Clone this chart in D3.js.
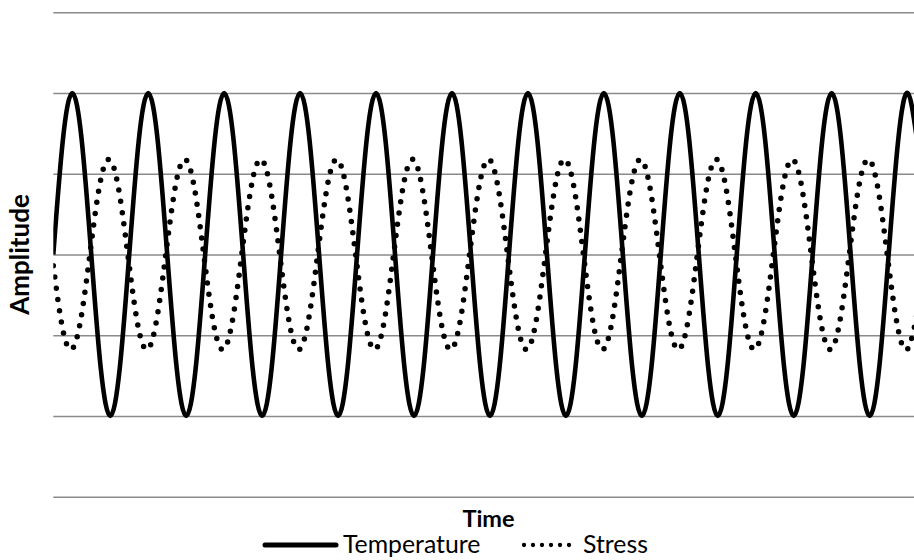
<!DOCTYPE html>
<html>
<head>
<meta charset="utf-8">
<script src="https://cdn.jsdelivr.net/npm/d3@7"></script>
<style>
  html, body { margin: 0; padding: 0; background: #fff; }
  svg { display: block; }
  text { font-family: Lato, "Liberation Sans", sans-serif; fill: #000; }
</style>
</head>
<body>
<svg id="chart" width="914" height="560"></svg>
<script>
// ---- data ----
const seriesNames = ["Temperature", "Stress"];
const yTicks = [-3, -2, -1, 0, 1, 2, 3];
const xTitle = "Time";
const yTitle = "Amplitude";

const temperature = [
  0, 1.41, 2, 1.41, 0, -1.41, -2, -1.41,
  0, 1.41, 2, 1.41, 0, -1.41, -2, -1.41,
  0, 1.41, 2, 1.41, 0, -1.41, -2, -1.41,
  0, 1.41, 2, 1.41, 0, -1.41, -2, -1.41,
  0, 1.41, 2, 1.41, 0, -1.41, -2, -1.41,
  0, 1.41, 2, 1.41, 0, -1.41, -2, -1.41,
  0, 1.41, 2, 1.41, 0, -1.41, -2, -1.41,
  0, 1.41, 2, 1.41, 0, -1.41, -2, -1.41,
  0, 1.41, 2, 1.41, 0, -1.41, -2, -1.41,
  0, 1.41, 2, 1.41, 0, -1.41, -2, -1.41,
  0, 1.41, 2, 1.41, 0, -1.41, -2, -1.41,
  0, 1.41, 2, 1.41
];

const stress = [
  -0.14, -0.93, -1.17, -0.73, 0.14, 0.93, 1.17, 0.73,
  -0.14, -0.93, -1.17, -0.73, 0.14, 0.93, 1.17, 0.73,
  -0.14, -0.93, -1.17, -0.73, 0.14, 0.93, 1.17, 0.73,
  -0.14, -0.93, -1.17, -0.73, 0.14, 0.93, 1.17, 0.73,
  -0.14, -0.93, -1.17, -0.73, 0.14, 0.93, 1.17, 0.73,
  -0.14, -0.93, -1.17, -0.73, 0.14, 0.93, 1.17, 0.73,
  -0.14, -0.93, -1.17, -0.73, 0.14, 0.93, 1.17, 0.73,
  -0.14, -0.93, -1.17, -0.73, 0.14, 0.93, 1.17, 0.73,
  -0.14, -0.93, -1.17, -0.73, 0.14, 0.93, 1.17, 0.73,
  -0.14, -0.93, -1.17, -0.73, 0.14, 0.93, 1.17, 0.73,
  -0.14, -0.93, -1.17, -0.73, 0.14, 0.93, 1.17, 0.73,
  -0.14, -0.93, -1.17, -0.73
];

// ---- layout ----
const svg = d3.select("#chart");
const W = 914, H = 560;
const plotLeft = 53.3, plotTop = 12.3, plotBottom = 496.7;
const step = 9.4925; // px per sample

const x = d3.scaleLinear()
  .domain([0, temperature.length - 1])
  .range([plotLeft, plotLeft + (temperature.length - 1) * step]);
const y = d3.scaleLinear().domain([-3, 3]).range([plotBottom, plotTop]);

svg.append("defs").append("clipPath").attr("id", "clip")
  .append("rect").attr("x", plotLeft).attr("y", 0).attr("width", W - plotLeft).attr("height", H);

// gridlines
const grid = svg.append("g").attr("transform", `translate(${plotLeft},0)`)
  .call(d3.axisLeft(y).tickValues(yTicks).tickSize(-(W - plotLeft)).tickFormat(""));
grid.select(".domain").remove();
grid.selectAll(".tick line").attr("stroke", "#8a8a8a").attr("stroke-width", 1.5);

const line = d3.line()
  .x((d, i) => x(i))
  .y(d => y(d))
  .curve(d3.curveNatural);

const g = svg.append("g").attr("clip-path", "url(#clip)");

g.append("path")
  .datum(stress)
  .attr("d", line)
  .attr("fill", "none")
  .attr("stroke", "#000")
  .attr("stroke-width", 5.5)
  .attr("stroke-linecap", "round")
  .attr("stroke-dasharray", "0 11.3");

g.append("path")
  .datum(temperature)
  .attr("d", line)
  .attr("fill", "none")
  .attr("stroke", "#000")
  .attr("stroke-width", 4.6)
  .attr("stroke-linejoin", "round");

// axis titles
svg.append("text")
  .attr("x", 488.5).attr("y", 526.5)
  .attr("text-anchor", "middle")
  .attr("font-weight", "bold")
  .attr("font-size", 23.5)
  .text(xTitle);

svg.append("text")
  .attr("transform", "translate(29,254.5) rotate(-90)")
  .attr("text-anchor", "middle")
  .attr("font-weight", "bold")
  .attr("font-size", 26)
  .text(yTitle);

// legend
const legY = 545;
const leg = svg.append("g");
leg.append("line")
  .attr("x1", 265).attr("x2", 336).attr("y1", legY).attr("y2", legY)
  .attr("stroke", "#000").attr("stroke-width", 5).attr("stroke-linecap", "round");
leg.append("text")
  .attr("x", 343).attr("y", 553)
  .attr("font-size", 24.8)
  .text(seriesNames[0]);
leg.append("line")
  .attr("x1", 524).attr("x2", 578).attr("y1", legY).attr("y2", legY)
  .attr("stroke", "#000").attr("stroke-width", 4.3).attr("stroke-linecap", "round")
  .attr("stroke-dasharray", "0 9");
leg.append("text")
  .attr("x", 583).attr("y", 553)
  .attr("font-size", 24.8)
  .text(seriesNames[1]);
</script>
</body>
</html>
